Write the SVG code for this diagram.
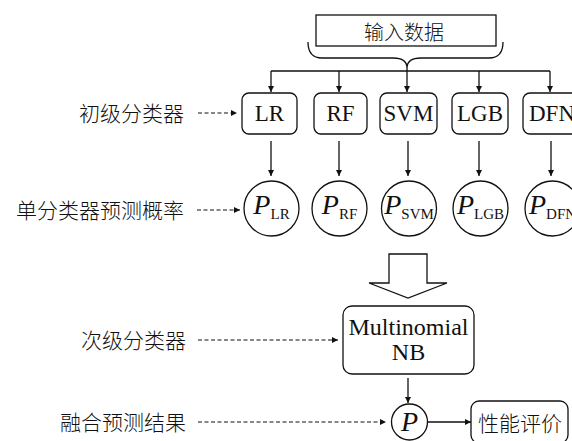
<svg xmlns="http://www.w3.org/2000/svg" width="572" height="441" viewBox="0 0 572 441">
<defs>
<marker id="ah" viewBox="0 0 10 10" refX="10" refY="5" markerWidth="6" markerHeight="6" markerUnits="userSpaceOnUse" orient="auto">
<path d="M0,0 L10,5 L0,10 z" fill="#111"/>
</marker>
<style>
.bx{fill:#fff;stroke:#111;stroke-width:1.3}
.ln{fill:none;stroke:#111;stroke-width:1.3}
.ds{fill:none;stroke:#111;stroke-width:1.2;stroke-dasharray:4,2.5}
.cjk{font-family:"Noto Sans CJK SC","Noto Sans CJK JP",sans-serif;font-size:21px;font-weight:300;fill:#111}
.lat{font-family:"Liberation Serif","DejaVu Serif",serif;font-size:23px;fill:#111;text-anchor:middle}
.big{font-family:"Liberation Serif","DejaVu Serif",serif;font-size:24px;fill:#111;text-anchor:middle}
.pv{font-family:"Liberation Serif","DejaVu Serif",serif;fill:#111;text-anchor:middle}
.pi{font-style:italic;font-size:28px}
.ps{font-size:15px}
</style>
</defs>
<rect width="572" height="441" fill="#fff"/>

<g id="connectors">
<path class="ln" d="M308,42 Q308,58 322,58 L393,58 Q407,58 407,68 Q407,58 421,58 L489,58 Q503,58 503,42"/>
<path class="ln" d="M271,71 H550 M407,68 V71"/>
<path class="ln" marker-end="url(#ah)" d="M271,71 V92"/>
<path class="ln" marker-end="url(#ah)" d="M339,71 V92"/>
<path class="ln" marker-end="url(#ah)" d="M407,71 V92"/>
<path class="ln" marker-end="url(#ah)" d="M479,71 V92"/>
<path class="ln" marker-end="url(#ah)" d="M550,71 V92"/>
<path class="ln" marker-end="url(#ah)" d="M271,141 V176"/>
<path class="ln" marker-end="url(#ah)" d="M339,141 V176"/>
<path class="ln" marker-end="url(#ah)" d="M408,141 V176"/>
<path class="ln" marker-end="url(#ah)" d="M479,141 V176"/>
<path class="ln" marker-end="url(#ah)" d="M551,141 V176"/>
<path class="ds" marker-end="url(#ah)" d="M198,113 H237"/>
<path class="ds" marker-end="url(#ah)" d="M197,210 H240"/>
<path class="ds" marker-end="url(#ah)" d="M198,340 H338"/>
<path class="ds" marker-end="url(#ah)" d="M198,422 H386"/>
<polygon class="bx" points="389,254 427,254 427,283 447,283 408,298 369,283 389,283"/>
<path class="ln" marker-end="url(#ah)" d="M408,378 V403"/>
<path class="ln" marker-end="url(#ah)" d="M427,422 H471"/>
</g>

<g id="input">
<rect class="bx" x="316" y="15" width="180" height="31"/>
<text class="cjk" x="404" y="39.5" text-anchor="middle" style="font-size:20px">输入数据</text>
</g>

<g id="label-primary"><text class="cjk" x="184" y="121" text-anchor="end">初级分类器</text></g>
<g id="label-prob"><text class="cjk" x="184" y="218" text-anchor="end">单分类器预测概率</text></g>
<g id="label-secondary"><text class="cjk" x="186" y="348" text-anchor="end">次级分类器</text></g>
<g id="label-fusion"><text class="cjk" x="186" y="430" text-anchor="end">融合预测结果</text></g>

<g id="lr"><rect class="bx" x="242" y="93" width="55" height="41" rx="7"/><text class="lat" x="269.5" y="121">LR</text></g>
<g id="rf"><rect class="bx" x="314" y="93" width="53" height="41" rx="7"/><text class="lat" x="340.5" y="121">RF</text></g>
<g id="svm"><rect class="bx" x="380" y="93" width="57" height="41" rx="7"/><text class="lat" x="408.5" y="121">SVM</text></g>
<g id="lgb"><rect class="bx" x="452" y="93" width="56" height="41" rx="7"/><text class="lat" x="480" y="121">LGB</text></g>
<g id="dfn"><rect class="bx" x="523" y="93" width="58" height="41" rx="7"/><text class="lat" x="552" y="121">DFN</text></g>

<g id="p-lr"><circle class="bx" cx="271.5" cy="208.5" r="27.5"/><text class="pv" x="271.5" y="214"><tspan class="pi">P</tspan><tspan class="ps" dy="5">LR</tspan></text></g>
<g id="p-rf"><circle class="bx" cx="339.5" cy="208.5" r="27.5"/><text class="pv" x="339.5" y="214"><tspan class="pi">P</tspan><tspan class="ps" dy="5">RF</tspan></text></g>
<g id="p-svm"><circle class="bx" cx="409" cy="208.5" r="27.5"/><text class="pv" x="409" y="214"><tspan class="pi">P</tspan><tspan class="ps" dy="5">SVM</tspan></text></g>
<g id="p-lgb"><circle class="bx" cx="480.5" cy="208.5" r="27.5"/><text class="pv" x="480.5" y="214"><tspan class="pi">P</tspan><tspan class="ps" dy="5">LGB</tspan></text></g>
<g id="p-dfn"><circle class="bx" cx="552.5" cy="208.5" r="27.5"/><text class="pv" x="552.5" y="214"><tspan class="pi">P</tspan><tspan class="ps" dy="5">DFN</tspan></text></g>

<g id="mnb"><rect class="bx" x="343" y="306" width="131" height="68" rx="9"/>
<text class="big" x="408.5" y="335">Multinomial</text>
<text class="big" x="408.5" y="360">NB</text></g>

<g id="p-final"><circle class="bx" cx="409.5" cy="422" r="18"/><text class="pv" x="409.5" y="431"><tspan class="pi">P</tspan></text></g>

<g id="eval"><rect class="bx" x="471" y="401" width="97" height="42" rx="8"/><text class="cjk" x="520" y="431" text-anchor="middle">性能评价</text></g>
</svg>
